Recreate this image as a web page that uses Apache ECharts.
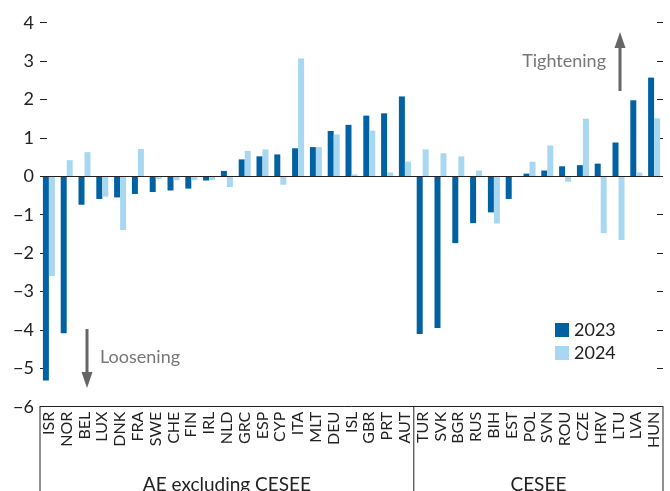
<!DOCTYPE html>
<html>
<head>
<meta charset="utf-8">
<script src="https://cdn.jsdelivr.net/npm/echarts@6/dist/echarts.min.js"></script>
<style>
  html, body { margin: 0; padding: 0; background: #fff; }
  #main { width: 670px; height: 491px; }
</style>
</head>
<body>
<div id="main"></div>
<script>
// categories, AE first then CESEE
var countriesAE = ["ISR", "NOR", "BEL", "LUX", "DNK", "FRA", "SWE", "CHE", "FIN", "IRL", "NLD",
  "GRC", "ESP", "CYP", "ITA", "MLT", "DEU", "ISL", "GBR", "PRT", "AUT"];
var countriesCESEE = ["TUR", "SVK", "BGR", "RUS", "BIH", "EST", "POL", "SVN", "ROU", "CZE",
  "HRV", "LTU", "LVA", "HUN"];
var groupLabels = ["AE excluding CESEE", "CESEE"];

var values2023 = [-5.32, -4.09, -0.74, -0.59, -0.55, -0.46, -0.41, -0.37, -0.32, -0.11, 0.14,
  0.44, 0.52, 0.57, 0.73, 0.76, 1.18, 1.34, 1.58, 1.64, 2.08,
  -4.11, -3.95, -1.74, -1.22, -0.94, -0.59, 0.07, 0.15, 0.26, 0.29, 0.33, 0.88, 1.98, 2.57];
var values2024 = [-2.60, 0.42, 0.63, -0.53, -1.40, 0.71, -0.07, -0.10, -0.10, -0.10, -0.28,
  0.66, 0.70, -0.22, 3.07, 0.76, 1.09, 0.05, 1.19, 0.10, 0.38,
  0.70, 0.60, 0.52, 0.15, -1.23, 0, 0.38, 0.80, -0.14, 1.50, -1.48, -1.66, 0.10, 1.51];

var categories = countriesAE.concat(countriesCESEE);

var font = "Lato, 'Noto Sans', sans-serif";
var gridLeft = 40, gridRight = 663, gridTop = 22.7, gridBottom = 406.7;
var catW = (gridRight - gridLeft) / categories.length;
var divX = gridLeft + countriesAE.length * catW;

var chart = echarts.init(document.getElementById("main"));

function arrow(x, y1, y2) {
  // shaft from y1 to head tip y2
  var dir = y2 < y1 ? -1 : 1;
  return [
    { type: "line", shape: { x1: x, y1: y1, x2: x, y2: y2 - dir * 12 }, style: { stroke: "#666", lineWidth: 3 } },
    { type: "polygon", shape: { points: [[x, y2], [x - 5.5, y2 - dir * 16], [x + 5.5, y2 - dir * 16]] }, style: { fill: "#666" } }
  ];
}

function label(txt, x, y, size, color, align) {
  return {
    type: "text", x: x, y: y,
    style: { text: txt, fontSize: size, fontFamily: font, fill: color, align: align, verticalAlign: "middle" }
  };
}

var graphics = [
  { type: "line", shape: { x1: gridLeft, y1: gridBottom, x2: gridLeft, y2: 491 }, style: { stroke: "#222", lineWidth: 1 } },
  { type: "line", shape: { x1: divX, y1: gridBottom, x2: divX, y2: 491 }, style: { stroke: "#222", lineWidth: 1 } },
  { type: "line", shape: { x1: gridRight, y1: gridBottom, x2: gridRight, y2: 491 }, style: { stroke: "#222", lineWidth: 1 } },
  label(groupLabels[0], (gridLeft + divX) / 2, 485, 19, "#222", "center"),
  label(groupLabels[1], (divX + gridRight) / 2, 485, 19, "#222", "center"),
  label("Tightening", 606, 61, 18, "#777", "right"),
  label("Loosening", 100, 357, 18, "#777", "left")
].concat(arrow(620, 91, 32)).concat(arrow(87, 329, 388));

chart.setOption({
  animation: false,
  backgroundColor: "#fff",
  grid: {
    left: gridLeft,
    right: 670 - gridRight,
    top: gridTop,
    bottom: 491 - gridBottom,
    containLabel: false
  },
  legend: {
    orient: "vertical",
    left: 550,
    top: 316,
    itemWidth: 14,
    itemHeight: 14,
    itemGap: 5,
    icon: "rect",
    textStyle: { fontSize: 18, color: "#222", fontFamily: font },
    data: ["2023", "2024"]
  },
  xAxis: {
    type: "category",
    data: categories,
    axisLine: { onZero: false, lineStyle: { color: "#222", width: 1 } },
    axisTick: { inside: true, length: 6, interval: 0, lineStyle: { color: "#222" } },
    axisLabel: { interval: 0, rotate: 90, fontSize: 16, color: "#222", fontFamily: font, margin: 5 },
    splitLine: { show: false }
  },
  yAxis: [
    {
      type: "value",
      min: -6,
      max: 4,
      interval: 1,
      axisLine: { show: false },
      axisTick: { show: true, inside: true, length: 7, lineStyle: { color: "#222" } },
      axisLabel: {
        fontSize: 18, color: "#222", fontFamily: font, margin: 6,
        formatter: function (v) { return v < 0 ? "\u2212" + Math.abs(v) : String(v); }
      },
      splitLine: { show: false }
    },
    {
      type: "value",
      position: "right",
      min: -6,
      max: 4,
      interval: 1,
      axisLine: { show: false },
      axisTick: { show: true, inside: true, length: 6, lineStyle: { color: "#222" } },
      axisLabel: { show: false },
      splitLine: { show: false }
    }
  ],
  series: [
    {
      name: "2023",
      type: "bar",
      barWidth: 6,
      barGap: "0%",
      itemStyle: { color: "#0061a3" },
      data: values2023,
      markLine: {
        silent: true,
        symbol: "none",
        label: { show: false },
        lineStyle: { color: "#222", width: 1, type: "solid" },
        data: [{ yAxis: 0 }]
      }
    },
    {
      name: "2024",
      type: "bar",
      barWidth: 6,
      barGap: "0%",
      itemStyle: { color: "#a8d8f1" },
      data: values2024
    }
  ],
  graphic: graphics
});
</script>
</body>
</html>
